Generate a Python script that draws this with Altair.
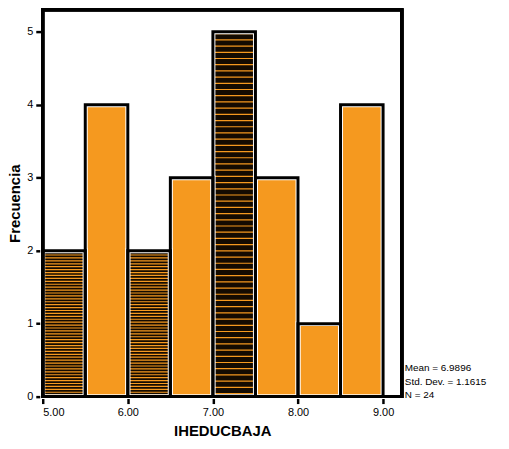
import altair as alt
import numpy as np
import pandas as pd

bin_start = [5.0, 5.5, 6.0, 6.5, 7.0, 7.5, 8.0, 8.5]
bin_end = [5.5, 6.0, 6.5, 7.0, 7.5, 8.0, 8.5, 9.0]
counts = [2, 4, 2, 3, 5, 3, 1, 4]
striped = [True, False, True, False, True, False, False, False]
stripe_step = [0.04, 0.0, 0.04, 0.0, 0.085, 0.0, 0.0, 0.0]
stats_lines = ["Mean = 6.9896", "Std. Dev. = 1.1615", "N = 24"]

ORANGE = "#F5991F"
DARK = "#140b01"

bars = pd.DataFrame({
    "start": bin_start, "end": bin_end, "count": counts,
    "fill": [DARK if s else ORANGE for s in striped],
})

rows = []
for s, e, c, st, step in zip(bin_start, bin_end, counts, striped, stripe_step):
    if st:
        for y in np.arange(step / 2, c, step):
            rows.append({"start": s, "end": e, "y": float(y)})
stripes = pd.DataFrame(rows)

stats = pd.DataFrame({"t": stats_lines, "py": [361, 375, 388]})

xs = alt.Scale(domain=[5.0, 9.22], nice=False, zero=False)
ys = alt.Scale(domain=[0, 5.3], nice=False)

xaxis = alt.Axis(values=[5, 6, 7, 8, 9], format=".2f", title="IHEDUCBAJA",
                 domain=False, grid=False, tickColor="black", tickWidth=2.5, tickSize=7,
                 labelFont="Liberation Sans", labelFontSize=11, labelColor="black", labelPadding=3,
                 titleFont="Liberation Sans", titleFontSize=15, titleFontWeight="bold",
                 titleColor="black", titlePadding=6)
yaxis = alt.Axis(values=[0, 1, 2, 3, 4, 5], format="d", title="Frecuencia",
                 domain=False, grid=False, tickColor="black", tickWidth=2.5, tickSize=7,
                 labelFont="Liberation Sans", labelFontSize=11, labelColor="black", labelPadding=3,
                 titleFont="Liberation Sans", titleFontSize=15, titleFontWeight="bold",
                 titleColor="black", titlePadding=4)

base = alt.Chart(bars)

fill = base.mark_rect(strokeWidth=0).encode(
    x=alt.X("start:Q", scale=xs, axis=xaxis),
    x2="end:Q",
    y=alt.Y("count:Q", scale=ys, axis=yaxis),
    y2=alt.datum(0),
    fill=alt.Fill("fill:N", scale=None),
)

stripe_layer = alt.Chart(stripes).mark_rule(color=ORANGE, strokeWidth=1.2).encode(
    x=alt.X("start:Q", scale=xs), x2="end:Q", y=alt.Y("y:Q", scale=ys)
)

white_ring = base.mark_rect(fillOpacity=0, stroke="white", strokeWidth=5).encode(
    x=alt.X("start:Q", scale=xs), x2="end:Q",
    y=alt.Y("count:Q", scale=ys), y2=alt.datum(0),
)
black_ring = base.mark_rect(fillOpacity=0, stroke="black", strokeWidth=3).encode(
    x=alt.X("start:Q", scale=xs), x2="end:Q",
    y=alt.Y("count:Q", scale=ys), y2=alt.datum(0),
)

stat_text = alt.Chart(stats).mark_text(
    align="left", baseline="middle", font="Liberation Sans", fontSize=10, color="black", dx=3
).encode(
    x=alt.value(362),
    y=alt.Y("py:Q", scale=None),
    text="t:N",
)

frame = alt.Chart(bars).mark_rect(fillOpacity=0, stroke="black", strokeWidth=3).encode(
    x=alt.value(0), x2=alt.value(362), y=alt.value(0), y2=alt.value(390)
)

chart = alt.layer(fill, stripe_layer, white_ring, black_ring, frame, stat_text).properties(
    width=362, height=390,
    autosize=alt.AutoSizeParams(type="none"),
    padding={"left": 35, "top": 0, "right": 100, "bottom": 50},
).configure(background="white").configure_view(stroke=None)

chart.save("out.html", embed_options={"renderer": "svg", "actions": False})
